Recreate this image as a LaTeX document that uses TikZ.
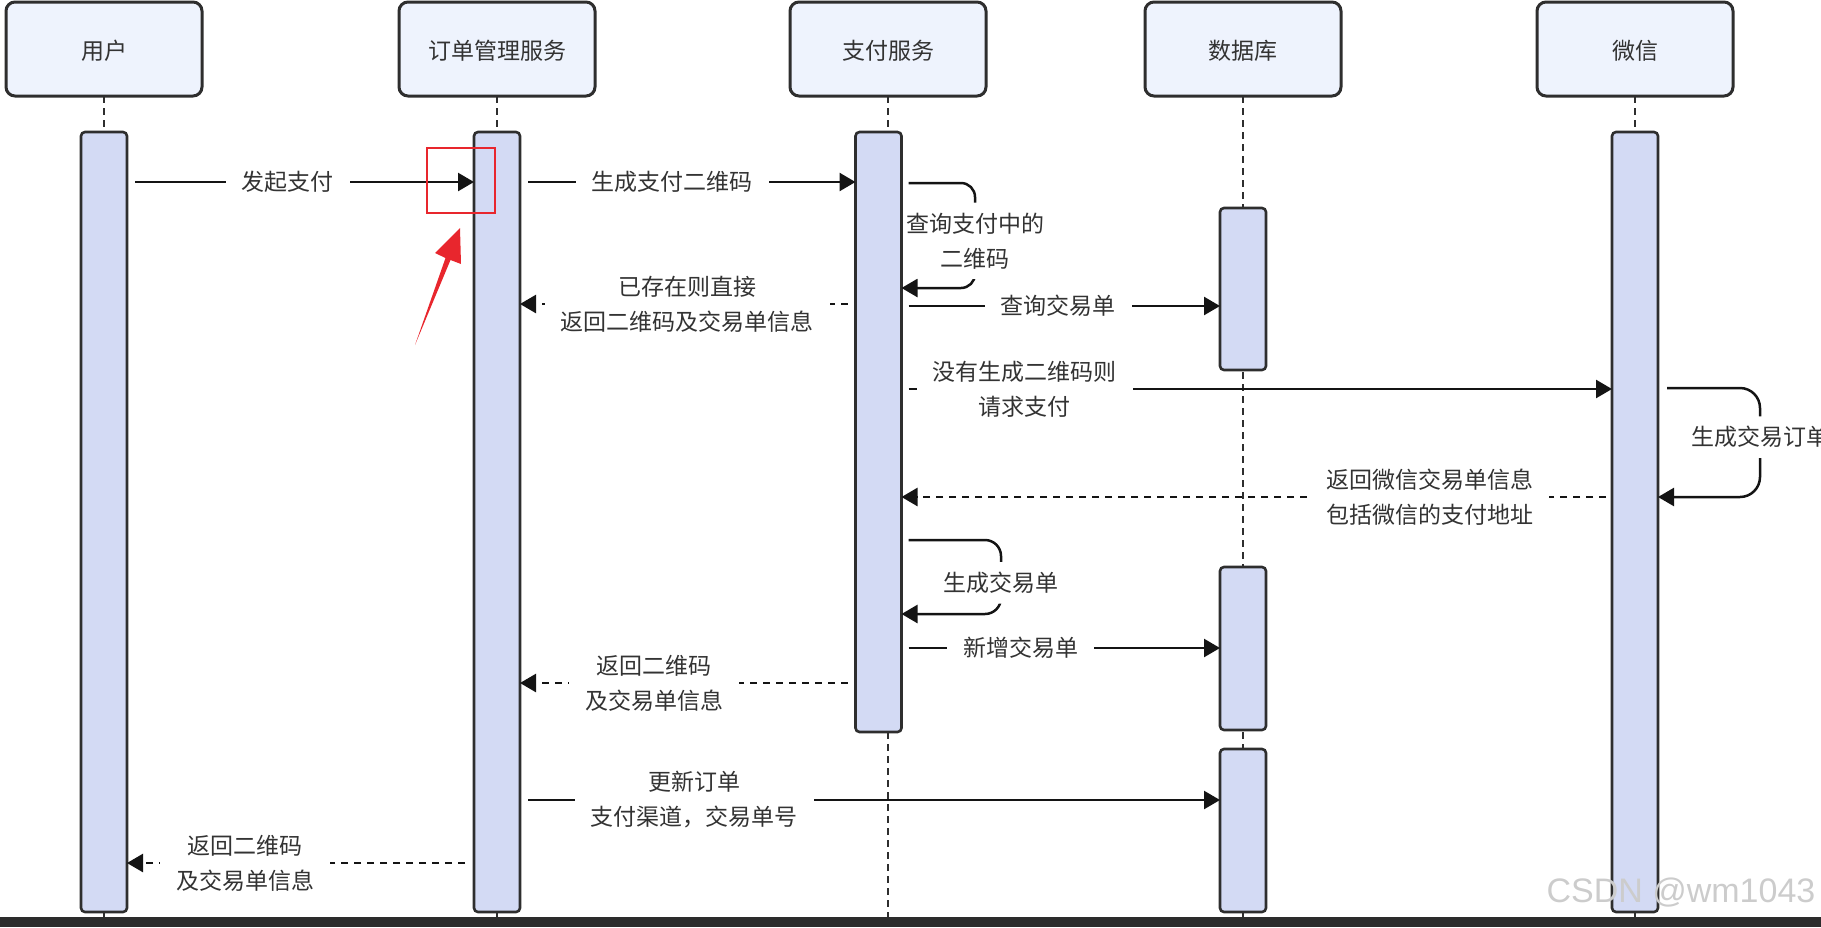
\documentclass[tikz,border=0pt]{standalone}
\usepackage{fontspec}
\newfontfamily\cjk{Noto Sans CJK SC}
\newfontfamily\wmfont{Liberation Sans}
\usetikzlibrary{arrows.meta, positioning, calc}

\definecolor{headfill}{HTML}{EEF3FD}
\definecolor{barfill}{HTML}{D3DAF4}
\definecolor{linec}{HTML}{2E2E2E}
\definecolor{txtc}{HTML}{333333}
\definecolor{markred}{HTML}{E8262D}
\definecolor{stripc}{HTML}{2C2C2C}

\tikzset{
  head/.style={draw=linec, line width=1.5pt, rounded corners=4.5pt, fill=headfill,
    minimum width=98pt, minimum height=47pt, outer sep=0pt, text=txtc,
    text height=12pt, text depth=1.5pt,
    font=\cjk\fontsize{11.5}{17.5}\selectfont},
  bar/.style={draw=linec, line width=1.3pt, rounded corners=2pt, fill=barfill,
    minimum width=23pt, inner sep=0pt, outer sep=0pt, anchor=north},
  life/.style={draw=linec, line width=1.3pt, dash pattern=on 3.5pt off 2.5pt},
  msg/.style={draw=black!92, line width=1.25pt, -{Triangle[length=8pt, width=9pt]}},
  reply/.style={msg, dash pattern=on 3.5pt off 3pt},
  lbl/.style={fill=white, text=txtc, align=center, inner xsep=8pt, inner ysep=0pt,
    font=\cjk\fontsize{11.5}{17.5}\selectfont},
  loopl/.style={lbl, inner xsep=0pt, inner ysep=5pt},
}

\begin{document}
\begin{tikzpicture}[x=0.5pt, y=-0.5pt]
\useasboundingbox (0,0) rectangle (1821,927);

% participants
\node[head] (user) at (104,49) {用户};
\node[head] (order) at (497,49) {订单管理服务};
\node[head] (pay) at (888,49) {支付服务};
\node[head] (db) at (1243,49) {数据库};
\node[head] (wx) at (1635,49) {微信};

% lifelines
\foreach \n in {user,order,pay,db,wx}
  \draw[life] (\n.south) -- (\n.south |- 0,917);

% activation bars
\node[bar, below=18pt of user, minimum height=390pt] (userbar) {};
\node[bar, below=18pt of order, minimum height=390pt] (orderbar) {};
\node[bar, below=18pt of pay, xshift=-4.75pt, minimum height=300pt] (paybar) {};
\node[bar, below=56pt of db, minimum height=81pt] (dbbarA) {};
\node[bar, below=235.5pt of db, minimum height=81.5pt] (dbbarB) {};
\node[bar, below=326.5pt of db, minimum height=81.5pt] (dbbarC) {};
\node[bar, below=18pt of wx, minimum height=390pt] (wxbar) {};

% messages
\draw[msg] ($(userbar.east |- 0,182)+(8,0)$) -- node[lbl, pos=.45] {发起支付} (orderbar.west |- 0,182);
\draw[msg] ($(orderbar.east |- 0,182)+(8,0)$) -- node[lbl, pos=.44] {生成支付二维码} (paybar.west |- 0,182);
\draw[msg, rounded corners=7pt] ($(paybar.east |- 0,183)+(7,0)$) -- (975,183)
  -- node[loopl, pos=.55] {查询支付中的\\二维码} (975,288) -- (paybar.east |- 0,288);
\draw[reply] ($(paybar.west |- 0,304)+(-8,0)$) -- node[lbl, pos=.49] {已存在则直接\\返回二维码及交易单信息} (orderbar.east |- 0,304);
\draw[msg] ($(paybar.east |- 0,306)+(7,0)$) -- node[lbl, pos=.48] {查询交易单} (dbbarA.west |- 0,306);
\draw[msg] ($(paybar.east |- 0,389)+(7,0)$) -- node[lbl, pos=.165] {没有生成二维码则\\请求支付} (wxbar.west |- 0,389);
\draw[msg, rounded corners=10pt] ($(wxbar.east |- 0,388)+(9,0)$) -- (1760,388)
  -- node[loopl, pos=.45] {生成交易订单} (1760,497) -- (wxbar.east |- 0,497);
\draw[reply] ($(wxbar.west |- 0,497)+(-6,0)$) -- node[lbl, pos=.25] {返回微信交易单信息\\包括微信的支付地址} (paybar.east |- 0,497);
\draw[msg, rounded corners=8pt] ($(paybar.east |- 0,540)+(7,0)$) -- (1001,540)
  -- node[loopl, pos=.58] {生成交易单} (1001,614) -- (paybar.east |- 0,614);
\draw[msg] ($(paybar.east |- 0,648)+(7,0)$) -- node[lbl, pos=.36] {新增交易单} (dbbarB.west |- 0,648);
\draw[reply] ($(paybar.west |- 0,683)+(-8,0)$) -- node[lbl, pos=.59] {返回二维码\\及交易单信息} (orderbar.east |- 0,683);
\draw[msg] ($(orderbar.east |- 0,800)+(8,0)$) -- node[lbl, pos=.24] {更新订单\\支付渠道，交易单号} (dbbarC.west |- 0,800);
\draw[reply] ($(orderbar.west |- 0,863)+(-9,0)$) -- node[lbl, pos=.65] {返回二维码\\及交易单信息} (userbar.east |- 0,863);

% red mark
\draw[markred, line width=1.2pt] (427,148) rectangle (495,213);
\fill[markred] (415,345) -- (445.5,258) -- (435,253) -- (460,228) -- (461,264) -- (450.5,260) -- cycle;

% watermark and bottom strip
\node[text=black!20, font=\wmfont\fontsize{17}{17}\selectfont] (csdn) at (1681,893) {CSDN @wm1043};
\fill[stripc] (0,917) rectangle (1821,927);
\end{tikzpicture}
\end{document}
